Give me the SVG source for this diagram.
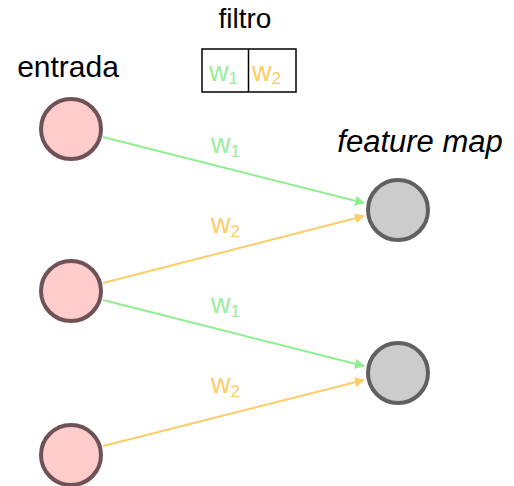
<svg xmlns="http://www.w3.org/2000/svg" width="514" height="486" viewBox="0 0 514 486">
<style>
text{font-family:"Liberation Sans",Arial,sans-serif}
.in{fill:#ffcccc;stroke:#6e5256;stroke-width:4}
.out{fill:#cccccc;stroke:#606060;stroke-width:4}
.g{stroke:#90ee90;stroke-width:2;fill:none}
.o{stroke:#ffcc66;stroke-width:2;fill:none}
.tg{fill:#99ee99}
.to{fill:#ffcc66}
.lbl{font-size:30px;fill:#000}
.w{font-size:27px}
.sub{font-size:17px}
</style>
<defs>
<marker id="ag" viewBox="0 0 10 10" refX="9" refY="5" markerWidth="5" markerHeight="5" orient="auto"><path d="M0,0L10,5L0,10z" fill="#90ee90"/></marker>
<marker id="ao" viewBox="0 0 10 10" refX="9" refY="5" markerWidth="5" markerHeight="5" orient="auto"><path d="M0,0L10,5L0,10z" fill="#ffcc66"/></marker>
</defs>
<rect width="514" height="486" fill="#fff"/>
<g id="title-filtro"><text x="245" y="28" text-anchor="middle" class="lbl" style="font-size:28px">filtro</text></g>
<g id="filtro">
<rect x="202" y="49" width="94" height="43" fill="#fff" stroke="#000" stroke-width="1.5"/>
<line x1="248.5" y1="49" x2="248.5" y2="92" stroke="#000" stroke-width="1.5"/>
<text x="209" y="81" class="w tg">w<tspan class="sub" dy="3">1</tspan></text>
<text x="252" y="81" class="w to">w<tspan class="sub" dy="3">2</tspan></text>
</g>
<g id="title-entrada"><text x="68" y="77" text-anchor="middle" class="lbl">entrada</text></g>
<g id="title-feature"><text x="420" y="152" text-anchor="middle" class="lbl" font-style="italic" style="font-size:31px">feature map</text></g>
<g id="connectors">
<line class="g" x1="103" y1="137" x2="364" y2="203" marker-end="url(#ag)"/>
<line class="o" x1="103" y1="283" x2="364" y2="216" marker-end="url(#ao)"/>
<line class="g" x1="103" y1="300" x2="364" y2="366" marker-end="url(#ag)"/>
<line class="o" x1="103" y1="446" x2="364" y2="380" marker-end="url(#ao)"/>
<text x="211" y="153" class="w tg">w<tspan class="sub" dy="4">1</tspan></text>
<text x="211" y="233" class="w to">w<tspan class="sub" dy="4">2</tspan></text>
<text x="211" y="313" class="w tg">w<tspan class="sub" dy="4">1</tspan></text>
<text x="211" y="393" class="w to">w<tspan class="sub" dy="4">2</tspan></text>
</g>
<g id="in1"><circle class="in" cx="71" cy="129" r="30"/></g>
<g id="in2"><circle class="in" cx="71" cy="291" r="30"/></g>
<g id="in3"><circle class="in" cx="71" cy="455" r="30"/></g>
<g id="out1"><circle class="out" cx="398" cy="210" r="30"/></g>
<g id="out2"><circle class="out" cx="398" cy="373" r="30"/></g>
</svg>
